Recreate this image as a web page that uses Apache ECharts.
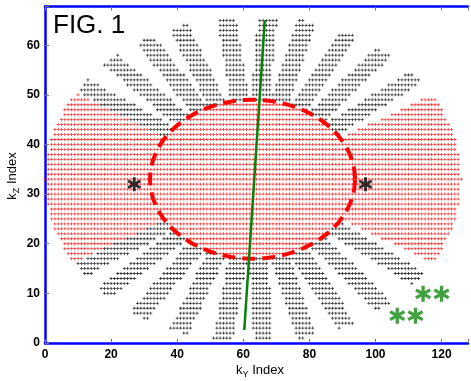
<!DOCTYPE html>
<html><head><meta charset="utf-8">
<script src="https://cdn.jsdelivr.net/npm/echarts@6/dist/echarts.min.js"></script>
<style>html,body{margin:0;padding:0;background:#fff}#c{width:471px;height:381px}</style>
</head><body><div id="c"></div>
<script>
// ---- data ----
const kyCount = 128;               // k_Y sample indices 0..127
const kzCount = 67;                // k_Z sample indices 0..66
const outerCenter = [63, 33];      // centre of sampled k-space
const outerRadii = [63, 33];       // outer elliptical support
const innerEllipse = [62.8, 33, 31, 16]; // cx, cy, a, b (fully sampled, dashed)
const redWedgesDeg = [[-30.5, 31], [148.5, 210.5]];
const spokeAnglesDeg = [38.7, 51.2, 62.8, 74.9, 86, 97.5, 110.9, 121.3, 133.3, 145.1,
                        213.8, 224, 236.5, 249, 261.5, 272.9, 284.9, 296.5, 309, 322.5];
const spokeHalfWidth = [0.046];
const blackStars = [[27, 32], [97, 32]];
const greenStars = [[114.4, 9.9], [120, 9.9], [106.6, 5.5], [112.1, 5.5]];
const greenLine = [[60.3, 2.6], [66.5, 65]];
const xTicks = [0, 20, 40, 60, 80, 100, 120];
const yTicks = [0, 10, 20, 30, 40, 50, 60];

// ---- build sample sets on the integer grid ----
const redPts = [], blackPts = [];
for (let y = 0; y < kzCount; y++) {
  for (let x = 0; x < kyCount; x++) {
    const u = (x - outerCenter[0]) / outerRadii[0];
    const v = (y - outerCenter[1]) / outerRadii[1];
    if (Math.hypot(u, v) > 1.0) continue;
    const e = ((x - innerEllipse[0]) / innerEllipse[2]) ** 2 + ((y - innerEllipse[1]) / innerEllipse[3]) ** 2;
    const ang = Math.atan2(v, u) * 180 / Math.PI;
    const inWedge = redWedgesDeg.some(([a0, a1]) => { let t = ang; if (t < a0) t += 360; return t >= a0 && t <= a1; });
    if (e <= 1 || inWedge) { redPts.push([x, y]); continue; }
    const onSpoke = spokeAnglesDeg.some(d => {
      const th = d * Math.PI / 180, c = Math.cos(th), s = Math.sin(th);
      return (u * c + v * s) > 0 && Math.abs(-u * s + v * c) <= spokeHalfWidth[0];
    });
    if (onSpoke) blackPts.push([x, y]);
  }
}
const ellipsePts = [];
for (let i = 0; i <= 240; i++) {
  const t = i / 240 * 2 * Math.PI;
  ellipsePts.push([innerEllipse[0] + innerEllipse[2] * Math.cos(t), innerEllipse[1] + innerEllipse[3] * Math.sin(t)]);
}

const plus = 'path://M0,1.1H3V1.9H0ZM1.1,0H1.9V3H1.1Z';
const star = 'path://M40,0L60,0L60,100L40,100Z M98.3,66.3L88.3,83.7L1.7,33.7L11.7,16.3Z M11.7,83.7L1.7,66.3L88.3,16.3L98.3,33.7Z';
const FONT = "'Liberation Sans', Arial, sans-serif";
const blue = '#0000ff';

const chart = echarts.init(document.getElementById('c'), null, {renderer: 'canvas'});
chart.setOption({
  animation: false,
  grid: {left: 45, top: 6.5, width: 430.2, height: 336.5, containLabel: false},
  xAxis: [{
    type: 'value', min: 0, max: 128, interval: 20, position: 'bottom',
    axisLine: {lineStyle: {color: blue, width: 2.5}},
    axisTick: {inside: true, length: 4, lineStyle: {color: '#777'}},
    splitLine: {show: false},
    axisLabel: {color: '#000', fontSize: 12, fontWeight: 'bold', fontFamily: FONT, margin: 6,
      formatter: v => xTicks.includes(v) ? String(v) : ''}
  }, {
    type: 'value', min: 0, max: 128, interval: 20, position: 'top',
    axisLine: {lineStyle: {color: blue, width: 2.5}},
    axisTick: {inside: true, length: 4, lineStyle: {color: '#777'}},
    splitLine: {show: false}, axisLabel: {show: false}
  }],
  yAxis: {
    type: 'value', min: 0, max: 67.8, interval: 10,
    axisLine: {lineStyle: {color: blue, width: 2.5}},
    axisTick: {inside: true, length: 4, lineStyle: {color: '#777'}},
    splitLine: {show: false},
    axisLabel: {color: '#000', fontSize: 12, fontWeight: 'bold', fontFamily: FONT, margin: 5,
      formatter: v => yTicks.includes(v) ? String(v) : ''}
  },
  series: [
    {type: 'scatter', data: redPts, symbol: plus, symbolSize: 3, itemStyle: {color: '#ff0000'}, progressive: 0, silent: true},
    {type: 'scatter', data: blackPts, symbol: plus, symbolSize: 3, itemStyle: {color: '#000'}, progressive: 0, silent: true},
    {type: 'line', data: ellipsePts, showSymbol: false, symbol: 'none', smooth: false,
      lineStyle: {color: '#ff0000', width: 4, type: [13, 7], cap: 'butt'}, silent: true},
    {type: 'line', data: greenLine, showSymbol: false, symbol: 'none',
      lineStyle: {color: '#0a800a', width: 2.5}, silent: true},
    {type: 'scatter', data: blackStars, symbol: star, symbolSize: 14, itemStyle: {color: '#000'}, silent: true},
    {type: 'scatter', data: greenStars, symbol: star, symbolSize: 16, itemStyle: {color: '#118811'}, silent: true}
  ],
  graphic: [
    {type: 'text', x: 53, y: 26, style: {text: 'FIG. 1', font: '26px ' + FONT, fill: '#000', verticalAlign: 'middle', align: 'left'}},
    {type: 'text', x: 260, y: 370, style: {
      text: '{a|k}{s|Y}{a| Index}', align: 'center', verticalAlign: 'middle', fill: '#000',
      rich: {a: {fontSize: 13, fontFamily: FONT, verticalAlign: 'middle', lineHeight: 18},
             s: {fontSize: 9, fontFamily: FONT, verticalAlign: 'bottom', lineHeight: 18}}}},
    {type: 'text', x: 12, y: 176, rotation: Math.PI / 2, style: {
      text: '{a|k}{s|Z}{a| Index}', align: 'center', verticalAlign: 'middle', fill: '#000',
      rich: {a: {fontSize: 13, fontFamily: FONT, verticalAlign: 'middle', lineHeight: 18},
             s: {fontSize: 9, fontFamily: FONT, verticalAlign: 'bottom', lineHeight: 18}}}}
  ]
});
</script></body></html>
